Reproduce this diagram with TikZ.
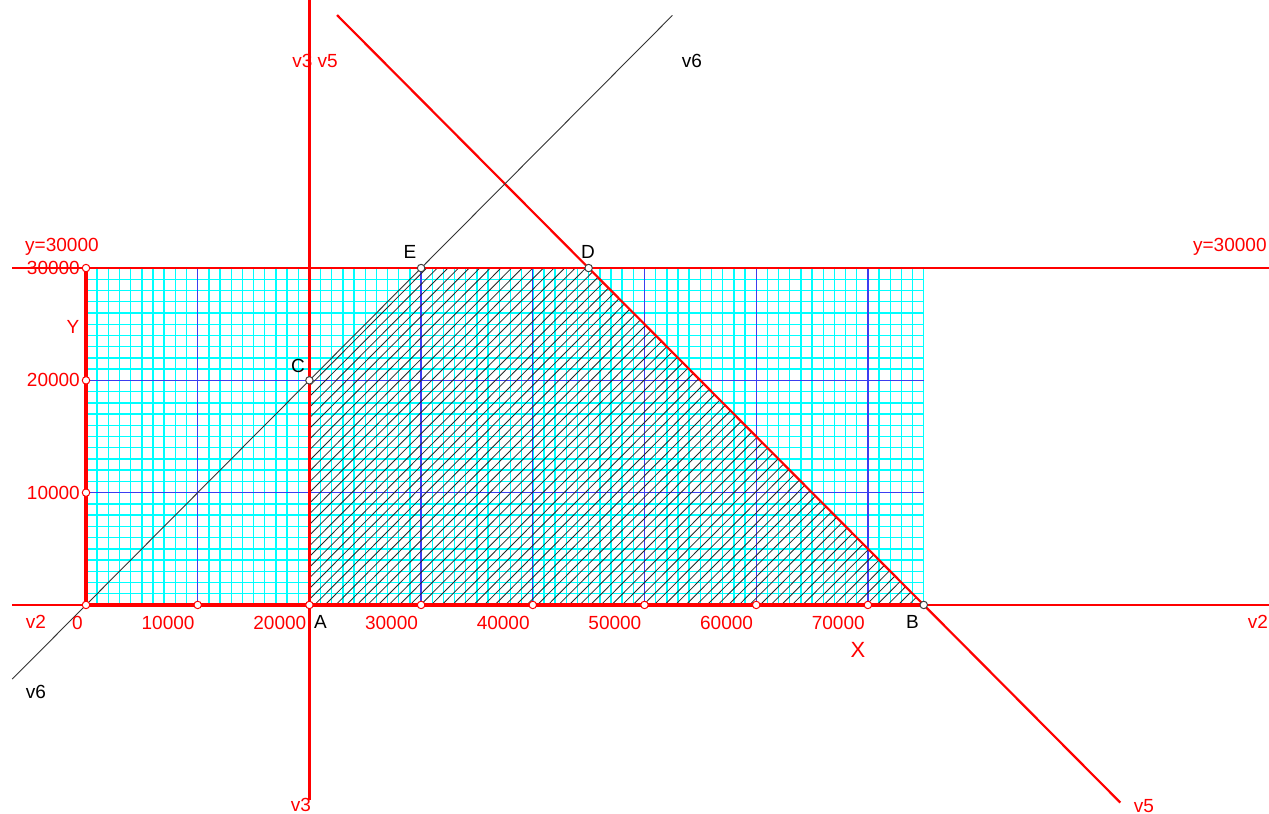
\documentclass[tikz,border=0pt]{standalone}
\usepackage{fontspec}
\setmainfont{Liberation Sans}
\definecolor{cyjan}{RGB}{0,255,255}
\definecolor{niebieski}{RGB}{60,60,240}
\definecolor{czerwony}{RGB}{255,0,0}
\begin{document}
\begin{tikzpicture}[
    x=11.17pt, y=11.23pt,
    prosta/.style={draw=czerwony, line width=2.2pt},
    os/.style={draw=czerwony, line width=4pt},
    prostav6/.style={draw=black!80, line width=0.9pt},
    siatka/.style={draw=cyjan, line width=1.4pt},
    siatkagl/.style={draw=niebieski, line width=1.3pt},
    kreska/.style={draw=black!85, line width=0.8pt},
    punkt/.style={circle, draw=black!75, fill=white, line width=1pt, minimum size=7.5pt, inner sep=0pt},
    podz/.style={punkt, draw=czerwony},
    opis/.style={font=\fontsize{19}{21}\selectfont, inner sep=0pt, text=czerwony},
    etyk/.style={opis, text=black}
]

% Obszar rysunku (marginesy jak na oryginale)
\fill[white] (-7.70,-18.61) rectangle (105.91,53.87);
\useasboundingbox (-7.70,-18.61) rectangle (105.91,53.87);

% Wierzcholki obszaru dopuszczalnego
\coordinate (O) at (0,0);
\coordinate (A) at (20,0);
\coordinate (B) at (75,0);
\coordinate (C) at (20,20);
\coordinate (D) at (45,30);
\coordinate (E) at (30,30);

% Konce prostych ograniczen
\coordinate (v2l) at (-6.6,0);
\coordinate (v2p) at (105.91,0);
\coordinate (y3l) at (-6.6,30);
\coordinate (y3p) at (105.91,30);
\coordinate (v3g) at (20,53.87);
\coordinate (v3d) at (20,-17.4);
\coordinate (v5g) at (22.47,52.53);
\coordinate (v5d) at (92.6,-17.6);
\coordinate (v6d) at (-6.6,-6.6);
\coordinate (v6g) at (52.5,52.5);
\coordinate (X0) at (0,30);
\coordinate (XB) at (75,30);

% Drobna siatka (co 1000)
\foreach \i in {1,...,74} \draw[siatka] (\i,0) -- (\i,30);
\foreach \j in {1,...,29} \draw[siatka] (0,\j) -- (75,\j);
\draw[siatka] (XB) -- (B);

% Glowna siatka (co 10000)
\foreach \i in {10,20,...,70} \draw[siatkagl] (\i,0) -- (\i,30);
\foreach \j in {10,20} \draw[siatkagl] (0,\j) -- (75,\j);

% Kreskowanie obszaru ABDEC
\begin{scope}
    \clip (A) -- (B) -- (D) -- (E) -- (C) -- cycle;
    \foreach \c in {0.5,1.45,...,75} \draw[kreska] (\c,0) -- (\c+30,30);
\end{scope}

% Proste ograniczen
\draw[prosta] (v2l) -- (v2p);
\draw[prosta] (y3l) -- (y3p);
\draw[prosta] (v3g) -- (v3d);
\draw[prosta] (v5g) -- (v5d);
\draw[prostav6] (v6d) -- (v6g);

% Osie ukladu
\draw[os] (X0) -- (O) -- (B);

% Podzialki na osiach
\foreach \j in {0,10,20,30} \node[podz] (py\j) at (0,\j) {};
\foreach \i in {10,20,...,70} \node[podz] (px\i) at (\i,0) {};

% Wierzcholki
\node[punkt] (nB) at (B) {};
\node[punkt] (nC) at (C) {};
\node[punkt] (nD) at (D) {};
\node[punkt] (nE) at (E) {};

% Opisy osi X
\foreach \i in {0,10,...,70}
    \node[opis, anchor=north east, xshift=-3pt, yshift=-11pt] at (\i,0) {\ifnum\i=0 0\else\i000\fi};

% Opisy osi Y
\foreach \j in {10,20,30}
    \node[opis, anchor=east, xshift=-6pt] at (0,\j) {\j000};
\node[opis] (lY) at (-1.16,24.75) {Y};
\node[opis, font=\fontsize{22}{24}\selectfont] (lX) at (69.1,-4.0) {X};

% Opisy prostych
\node[opis, anchor=west] (ly3l) at (-5.46,31.9) {y=30000};
\node[opis, anchor=west] (ly3p) at (99.1,31.9) {y=30000};
\node[opis] (lv2l) at (-4.48,-1.5) {v2};
\node[opis, anchor=west] (lv2p) at (104.0,-1.5) {v2};
\node[opis] (lv35) at (20.5,48.4) {v3 v5};
\node[opis] (lv3) at (19.25,-17.8) {v3};
\node[opis] (lv5) at (94.7,-17.9) {v5};
\node[etyk] (lv6g) at (54.25,48.4) {v6};
\node[etyk] (lv6d) at (-4.48,-7.75) {v6};

% Etykiety wierzcholkow
\node[etyk] (lA) at (21.0,-1.5) {A};
\node[etyk] (lB) at (74.0,-1.5) {B};
\node[etyk] (lC) at (18.98,21.3) {C};
\node[etyk] (lD) at (44.94,31.4) {D};
\node[etyk] (lE) at (29.0,31.4) {E};

\end{tikzpicture}
\end{document}
